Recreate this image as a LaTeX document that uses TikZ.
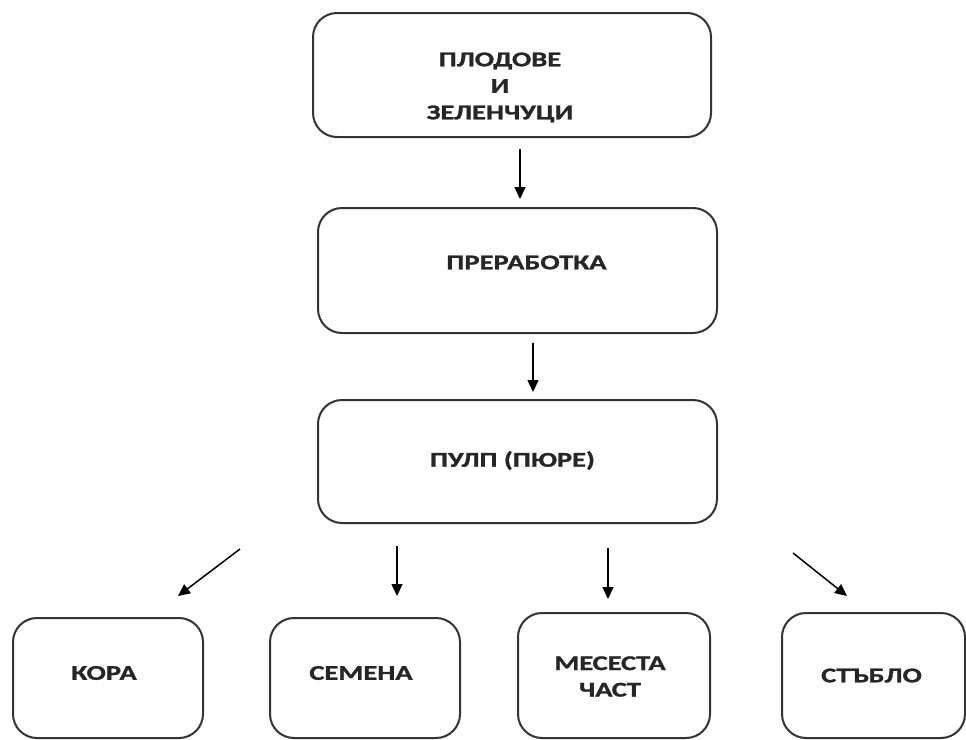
\documentclass[tikz,border=0pt]{standalone}
\usepackage{fontspec}
\setmainfont{Carlito}[FakeStretch=1.36, BoldFeatures={FakeBold=1.2}]
\usetikzlibrary{arrows.meta}

\tikzset{
  box/.style={draw=black!80, line width=2pt, rounded corners=24pt, fill=white},
  lbl/.style={font=\bfseries\fontsize{21}{26.5}\selectfont, align=center, text=black!85},
  arr/.style={line width=1.5pt, -{Triangle[length=12pt,width=11pt]}}
}

\begin{document}
\begin{tikzpicture}[x=1pt,y=-1pt]

  % white page, same size as the reference
  \useasboundingbox [fill=white] (0,0) rectangle (966,739);

  % the chain in the middle
  \node[box, minimum width=398pt, minimum height=124pt,
        label={[lbl,shift={(-12,12.5)}]center:{ПЛОДОВЕ\\И\\ЗЕЛЕНЧУЦИ}}] (fruit) at (512,75) {};
  \node[box, minimum width=399pt, minimum height=125pt,
        label={[lbl,shift={(9,-8)}]center:ПРЕРАБОТКА}] (proc) at (517.5,270.5) {};
  \node[box, minimum width=399pt, minimum height=123pt,
        label={[lbl,shift={(-5,-1)}]center:ПУЛП (ПЮРЕ)}] (pulp) at (517.5,461.5) {};

  % the four parts at the bottom
  \node[box, minimum width=190pt, minimum height=120pt,
        label={[lbl,shift={(-4,-5)}]center:КОРА}] (kora) at (108,678) {};
  \node[box, minimum width=190pt, minimum height=120pt,
        label={[lbl,shift={(-4,-5)}]center:СЕМЕНА}] (seeds) at (365,678) {};
  \node[box, minimum width=192pt, minimum height=125pt,
        label={[lbl,shift={(-4,1)}]center:{МЕСЕСТА\\ЧАСТ}}] (flesh) at (614,675.5) {};
  \node[box, minimum width=183pt, minimum height=125pt,
        label={[lbl,shift={(-2,0)}]center:СТЪБЛО}] (stem) at (873.5,675.5) {};

  % arrows
  \draw[arr] ([shift={(8,11)}]fruit.south) -- ([shift={(2.5,-8)}]proc.north);
  \draw[arr] ([shift={(15.5,9)}]proc.south) -- ([shift={(15.5,-7)}]pulp.north);

  \draw[arr] ([shift={(-77,25)}]pulp.south west) -- ([shift={(-26,-21)}]kora.north east);
  \draw[arr] ([shift={(80,22)}]pulp.south west) -- ([shift={(32,-21)}]seeds.north);
  \draw[arr] ([shift={(90.5,24)}]pulp.south) -- ([shift={(-6,-13)}]flesh.north);
  \draw[arr] ([shift={(75,29)}]pulp.south east) -- ([shift={(66,-16)}]stem.north west);

\end{tikzpicture}
\end{document}
